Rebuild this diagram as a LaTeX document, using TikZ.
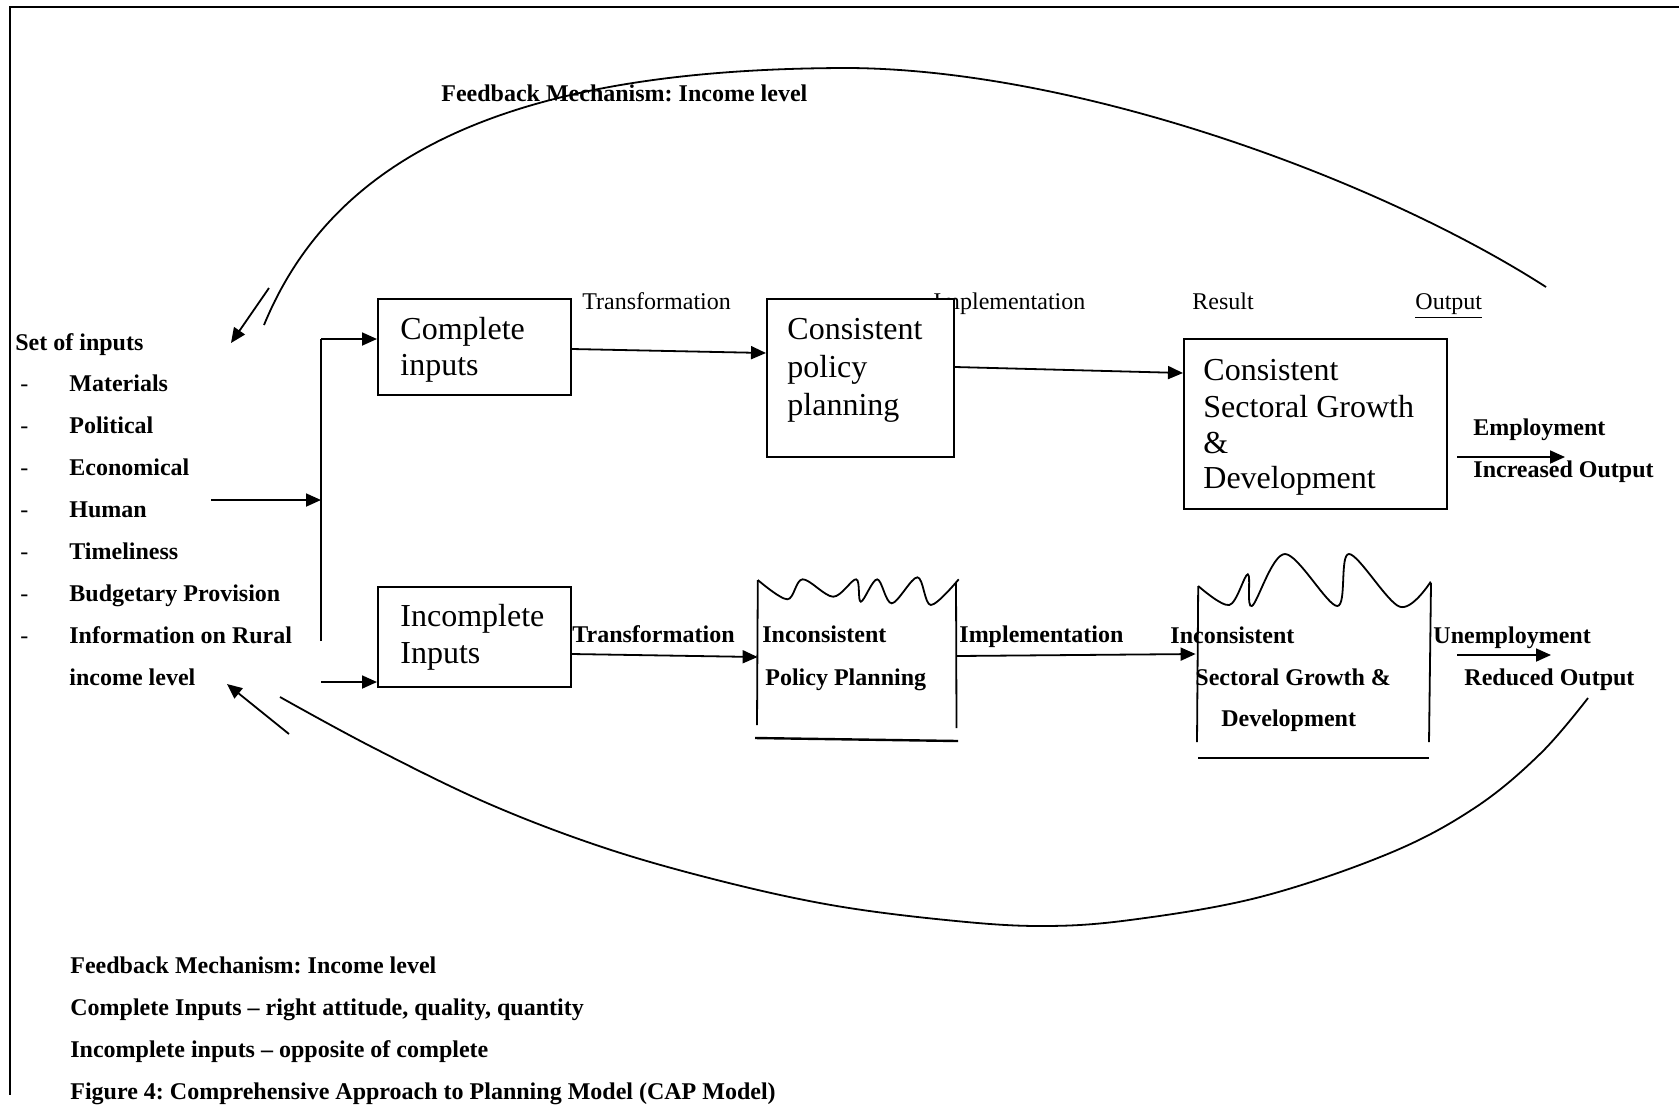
\documentclass[tikz,border=0pt]{standalone}
\usepackage{fontspec}
\setmainfont{Liberation Serif}
\usetikzlibrary{arrows.meta,fit}
\frenchspacing

\tikzset{
  arr/.style={line width=0.9pt, -{Triangle[length=7.5pt,width=6.5pt]}},
  ln/.style={line width=0.9pt},
  wav/.style={line width=0.9pt, smooth, tension=0.55},
  boxst/.style={draw, line width=1pt, fill=white, inner sep=0pt},
  hid/.style={inner sep=0pt},
  bt/.style={font=\fontsize{12}{14}\selectfont\bfseries, anchor=base west, inner sep=0pt},
  rt/.style={font=\fontsize{12}{14}\selectfont, anchor=base west, inner sep=0pt},
  lt/.style={font=\fontsize{16}{19}\selectfont, anchor=base west, inner sep=0pt},
}

\begin{document}
\begin{tikzpicture}[x=0.5pt,y=-0.5pt]
\useasboundingbox (0,0) rectangle (1679,1110);

% frame
\draw[line width=1pt] (1679,7) -- (10,7) -- (10,1095);

% top labels (boxes drawn afterwards cover part of them)
\node[bt] (fbtop) at (441,101) {Feedback Mechanism: Income level};
\node[rt] (lT1) at (582,309) {Transformation};
\node[rt] (lI1) at (933,309) {Implementation};
\node[rt] (lR) at (1192,309) {Result};
\node[rt] (lO) at (1415,309) {\underline{Output}};

% boxes of the upper row
\coordinate (ci1) at (378,299); \coordinate (ci2) at (571,395);
\node[boxst, fit=(ci1)(ci2)] (ci) {};
\coordinate (cp1) at (767,299); \coordinate (cp2) at (954,457);
\node[boxst, fit=(cp1)(cp2)] (cpp) {};
\coordinate (cs1) at (1184,339); \coordinate (cs2) at (1447,509);
\node[boxst, fit=(cs1)(cs2)] (csg) {};
\coordinate (ii1) at (378,587); \coordinate (ii2) at (571,687);
\node[boxst, fit=(ii1)(ii2)] (ii) {};

\node[lt] (ciA) at (400,339) {Complete};
\node[lt] (ciB) at (400,375) {inputs};
\node[lt] (cpA) at (787,339) {Consistent};
\node[lt] (cpB) at (787,377) {policy};
\node[lt] (cpC) at (787,415) {planning};
\node[lt] (csA) at (1203,380) {Consistent};
\node[lt] (csB) at (1203,417) {Sectoral Growth};
\node[lt] (csC) at (1203,453) {\&};
\node[lt] (csD) at (1203,488) {Development};
\node[lt] (iiA) at (400,626) {Incomplete};
\node[lt] (iiB) at (400,663) {Inputs};

% list of inputs
\node[bt] (soi) at (15,350) {Set of inputs};
\foreach \t [count=\i] in {Materials,Political,Economical,Human,Timeliness,Budgetary Provision,Information on Rural} {
  \node[rt] (d\i) at (20,349+42*\i) {-};
  \node[bt] (it\i) at (69,349+42*\i) {\t};
}
\node[bt] (it8) at (69,685) {income level};

% branching arrows on the left
\coordinate (hs) at (211,500);
\coordinate (vm) at (321,500);
\coordinate (vt) at (321,339);
\coordinate (vb) at (321,641);
\coordinate (bs) at (321,682);
\draw[arr] (hs) -- (vm);
\draw[ln] (vb) -- (vt);
\draw[arr] (vt) -- (ci.west |- vt);
\draw[arr] (bs) -- (ii.west |- bs);

% upper row connectors
\coordinate (ya) at (0,349); \coordinate (yb) at (0,353);
\coordinate (yc) at (0,367); \coordinate (yd) at (0,373);
\draw[arr] (ci.east |- ya) -- (cpp.west |- yb);
\draw[arr] (cpp.east |- yc) -- (csg.west |- yd);

\node[bt] (emp) at (1473,435) {Employment};
\node[bt] (inc) at (1473,477) {Increased Output};
\coordinate (e1) at (1457,457); \coordinate (e2) at (1565,457);
\draw[arr] (e1) -- (e2);

% lower row: open "wavy" shapes
\coordinate (ip1) at (758,580); \coordinate (ip2) at (956,740);
\node[hid, fit=(ip1)(ip2)] (ipp) {};
\coordinate (is1) at (1198,586); \coordinate (is2) at (1431,758);
\node[hid, fit=(is1)(is2)] (isg) {};

\draw[ln] (757.8,580) -- (757,725);
\draw[ln] (956,582) -- (956.5,728);
\draw[line width=1.2pt] (755,738) -- (958,741);
\draw[wav] plot coordinates {(757.8,580) (787.3,599.3) (802.6,579.3) (833.2,596.7) (856.2,579.3) (860.8,601.7) (877.2,579.3) (891.8,603.3) (917.4,577.3) (930.8,605) (958.7,579.3)};

\draw[ln] (1198.2,586) -- (1197,742);
\draw[ln] (1431,583) -- (1429,742);
\draw[line width=1.2pt] (1198,758) -- (1429,758);
\draw[wav] plot coordinates {(1198.2,586) (1229.3,605) (1247.8,574.3) (1251.9,606) (1285,554) (1337.2,606) (1349,554) (1399.7,606.7) (1430.7,581.7)};

\node[bt] (lT2) at (572,642) {Transformation};
\node[bt] (ipA) at (762,642) {Inconsistent};
\node[bt] (ipB) at (765,685) {Policy Planning};
\node[bt] (lI2) at (959,642) {Implementation};
\node[bt] (isA) at (1170,643) {Inconsistent};
\node[bt] (isB) at (1195,685) {Sectoral Growth \&};
\node[bt] (isC) at (1221,726) {Development};
\node[bt] (unemp) at (1433,643) {Unemployment};
\node[bt] (red) at (1464,685) {Reduced Output};

\coordinate (yf) at (0,654); \coordinate (yg) at (0,657);
\coordinate (yh) at (0,656); \coordinate (yi) at (0,654);
\draw[arr] (ii.east |- yf) -- (ipp.west |- yg);
\draw[arr] (ipp.east |- yh) -- ([xshift=-1pt]isg.west |- yi);
\coordinate (u1) at (1457,655); \coordinate (u2) at (1551,655);
\draw[arr] (u1) -- (u2);

% feedback arcs
\coordinate (ta) at (264,325);
\coordinate (tb) at (850,68);
\coordinate (tc) at (1546,287);
\draw[ln] (ta) .. controls (336,150) and (520,68) .. (tb)
               .. controls (1080,70) and (1378,179) .. (tc);
\coordinate (fa1) at (269,288); \coordinate (fa2) at (231,343);
\draw[arr] (fa1) -- (fa2);

\draw[ln] plot[smooth, tension=0.6] coordinates {(1588,698) (1541,753) (1476,807) (1390,853) (1260,897) (1130,920) (1040,926) (946,920) (831,905) (717,880) (602,847) (487,803) (372,747) (280,697)};
\coordinate (fb1) at (289,734); \coordinate (fb2) at (227,684);
\draw[arr] (fb1) -- (fb2);

% notes
\node[bt] (n1) at (70,973) {Feedback Mechanism: Income level};
\node[bt] (n2) at (70,1015) {Complete Inputs – right attitude, quality, quantity};
\node[bt] (n3) at (70,1057) {Incomplete inputs – opposite of complete};
\node[bt] (n4) at (70,1099) {Figure 4: Comprehensive Approach to Planning Model (CAP Model)};
\end{tikzpicture}
\end{document}
